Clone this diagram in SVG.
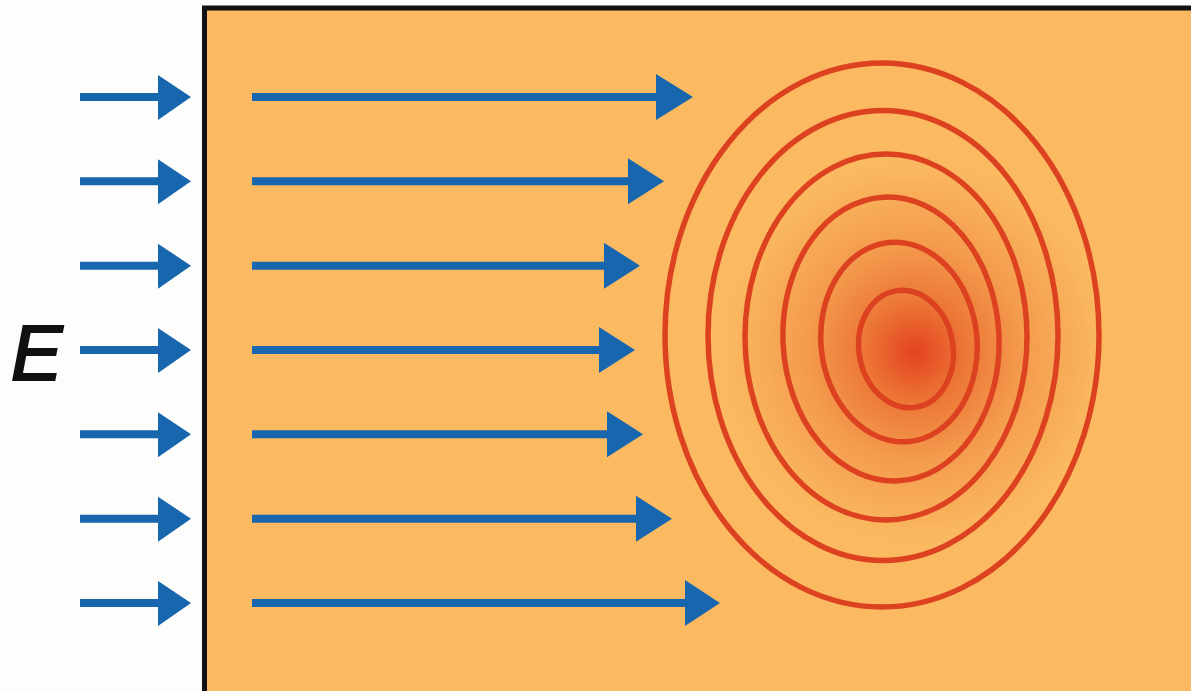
<svg xmlns="http://www.w3.org/2000/svg" width="1191" height="691" viewBox="0 0 1191 691">
<style>
.arr{fill:#1766AE}
.ring{fill:none;stroke:#DD4220;stroke-width:5.5}
.lbl{font-family:"Liberation Sans",Arial,sans-serif;font-style:italic;font-size:77px;fill:#111;stroke:#111;stroke-width:2.2}
</style>
<defs>
<radialGradient id="hot" gradientUnits="userSpaceOnUse" cx="915" cy="352" r="200">
<stop offset="0" stop-color="#E3421F"/>
<stop offset="0.25" stop-color="#EC7636"/>
<stop offset="0.55" stop-color="#F49C4E"/>
<stop offset="0.85" stop-color="#F9B25C"/>
<stop offset="1" stop-color="#FBB962" stop-opacity="0"/>
</radialGradient>
</defs>
<rect x="0" y="0" width="1191" height="691" fill="#FDFDFB"/>
<g id="slab">
<rect x="204.5" y="8" width="1000" height="700" fill="#FBB962" stroke="#111" stroke-width="5"/>
<ellipse cx="910" cy="350" rx="190" ry="220" fill="url(#hot)"/>
</g>
<g id="rings">
<ellipse class="ring" cx="882" cy="335" rx="217" ry="272"/>
<ellipse class="ring" cx="883" cy="335.5" rx="175" ry="225"/>
<ellipse class="ring" cx="886" cy="337" rx="141" ry="183"/>
<ellipse class="ring" cx="891" cy="339" rx="108" ry="142" transform="rotate(-3 891 339)"/>
<ellipse class="ring" cx="899" cy="342" rx="78" ry="100" transform="rotate(-6 899 342)"/>
<ellipse class="ring" cx="906" cy="349" rx="47" ry="59" transform="rotate(-10 906 349)"/>
</g>
<g id="label"><text class="lbl" x="11" y="380">E</text></g>
<g id="connectors">
<g id="incident">
<polygon class="arr" points="80,93 158,93 158,75 191,97 158,120 158,101 80,101"/>
<polygon class="arr" points="80,177.3 158,177.3 158,159.3 191,181.3 158,204.3 158,185.3 80,185.3"/>
<polygon class="arr" points="80,261.7 158,261.7 158,243.7 191,265.7 158,288.7 158,269.7 80,269.7"/>
<polygon class="arr" points="80,346 158,346 158,328 191,350 158,373 158,354 80,354"/>
<polygon class="arr" points="80,430.3 158,430.3 158,412.3 191,434.3 158,457.3 158,438.3 80,438.3"/>
<polygon class="arr" points="80,514.7 158,514.7 158,496.7 191,518.7 158,541.7 158,522.7 80,522.7"/>
<polygon class="arr" points="80,599 158,599 158,581 191,603 158,626 158,607 80,607"/>
</g>
<g id="inside">
<polygon class="arr" points="252,93 656,93 656,74 693,97 656,120 656,101 252,101"/>
<polygon class="arr" points="252,177.3 628,177.3 628,158.3 664,181.3 628,204.3 628,185.3 252,185.3"/>
<polygon class="arr" points="252,261.7 604,261.7 604,242.7 640,265.7 604,288.7 604,269.7 252,269.7"/>
<polygon class="arr" points="252,346 599,346 599,327 635,350 599,373 599,354 252,354"/>
<polygon class="arr" points="252,430.3 607,430.3 607,411.3 643,434.3 607,457.3 607,438.3 252,438.3"/>
<polygon class="arr" points="252,514.7 636,514.7 636,495.7 672,518.7 636,541.7 636,522.7 252,522.7"/>
<polygon class="arr" points="252,599 685,599 685,580 720,603 685,626 685,607 252,607"/>
</g>
</g>
</svg>
